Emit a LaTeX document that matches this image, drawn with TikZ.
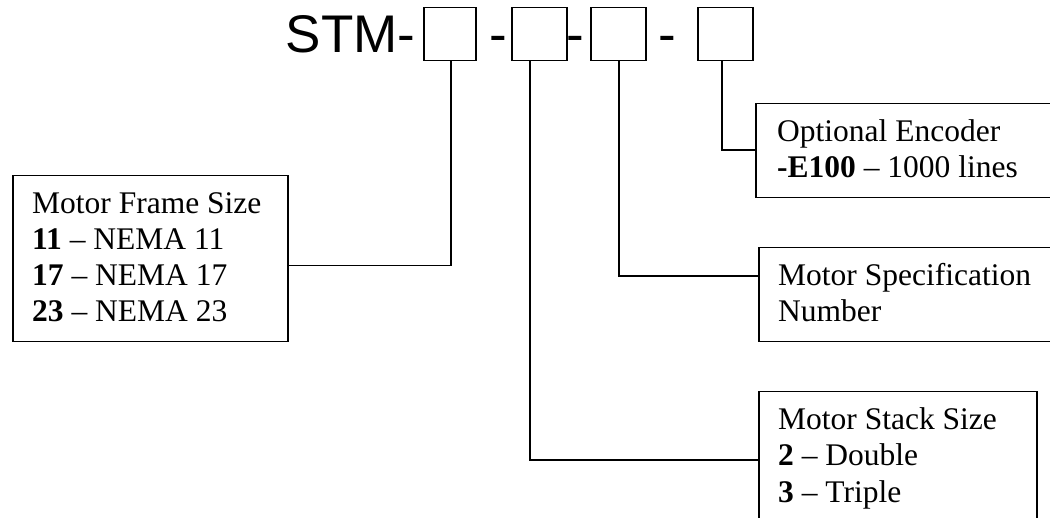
\documentclass[tikz,border=0pt]{standalone}
\usepackage{fontspec}
\setmainfont{Liberation Serif}
\newfontfamily\headfont{Liberation Sans}
\usetikzlibrary{calc}
\tikzset{
  slot/.style={draw, line width=1.5pt, minimum height=53pt, inner sep=0pt, anchor=north west},
  panel/.style={draw, line width=1.5pt, inner sep=0pt, anchor=north west},
  lbl/.style={anchor=base west, inner sep=0pt, font=\fontsize{31.5}{36}\selectfont},
  head/.style={inner sep=0pt, font=\headfont\fontsize{53}{60}\selectfont},
  link/.style={line width=1.5pt}
}
\begin{document}
\begin{tikzpicture}[x=1pt,y=-1pt]
\useasboundingbox (0,0) rectangle (1050,518);
\fill[white] (0,0) rectangle (1050,518);
\clip (0,0) rectangle (1050,518);

% part-number header
\node[head, anchor=base east] (stm) at (415.5,53) {STM-};
\node[slot, minimum width=52pt] (b1) at (423,7) {};
\node[head, anchor=base] (d1) at (498,53) {-};
\node[slot, minimum width=55pt] (b2) at (511,7) {};
\node[head, anchor=base] (d2) at (575,53) {-};
\node[slot, minimum width=55pt] (b3) at (590,7) {};
\node[head, anchor=base] (d3) at (667,53) {-};
\node[slot, minimum width=55pt] (b4) at (697,7) {};

% description panels
\node[panel, minimum width=275pt, minimum height=166pt] (frame) at (12,175) {};
\node[lbl] (f1) at (32,214) {Motor Frame Size};
\node[lbl] (f2) at (32,250) {\textbf{11} – NEMA 11};
\node[lbl] (f3) at (32,286) {\textbf{17} – NEMA 17};
\node[lbl] (f4) at (32,322) {\textbf{23} – NEMA 23};

\node[panel, minimum width=330pt, minimum height=94pt] (enc) at (755,103) {};
\node[lbl] (e1) at (777,142) {Optional Encoder};
\node[lbl] (e2) at (777,178) {\textbf{-E100} – 1000 lines};

\node[panel, minimum width=330pt, minimum height=94pt] (spec) at (758,247) {};
\node[lbl] (s1) at (778,286) {Motor Specification};
\node[lbl] (s2) at (778,322) {Number};

\node[panel, minimum width=278pt, minimum height=170pt] (stack) at (758,391) {};
\node[lbl] (k1) at (778,430) {Motor Stack Size};
\node[lbl] (k2) at (778,466) {\textbf{2} – Double};
\node[lbl] (k3) at (778,502) {\textbf{3} – Triple};

% leader lines
\draw[link] ($(b1.south)+(1,0)$) |- ($(frame.east)+(0,7)$);
\draw[link] ($(b2.south west)+(19,0)$) |- ($(stack.north west)+(0,69)$);
\draw[link] ($(b3.south west)+(29,0)$) |- ($(spec.north west)+(0,29)$);
\draw[link] ($(b4.south west)+(25,0)$) |- ($(enc.north west)+(0,47)$);
\end{tikzpicture}
\end{document}
